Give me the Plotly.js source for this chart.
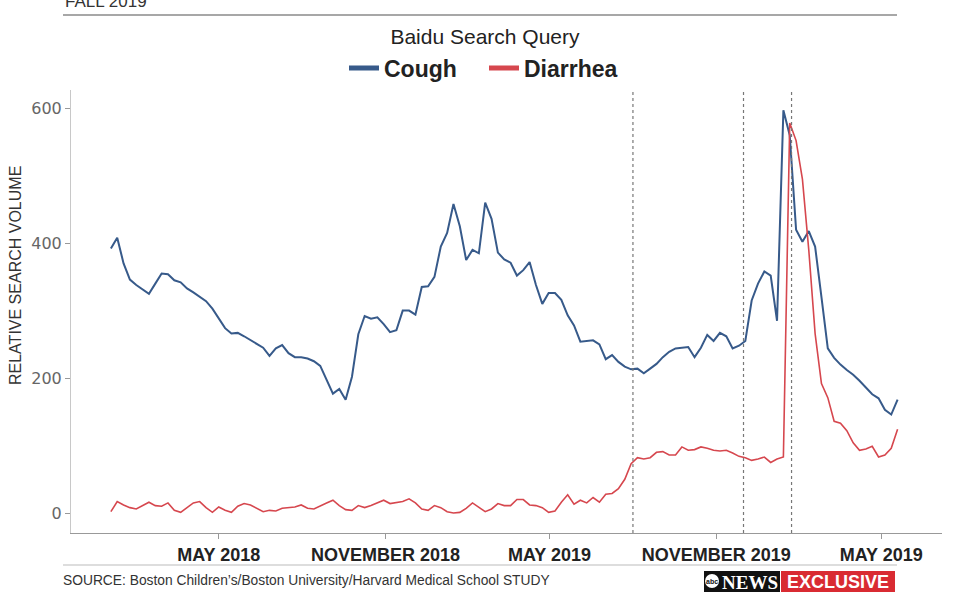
<!DOCTYPE html>
<html>
<head>
<meta charset="utf-8">
<script src="https://cdn.plot.ly/plotly-3.0.1.min.js"></script>
<style>
  html, body { margin: 0; padding: 0; background: #fff; }
  #chart { width: 960px; height: 600px; }
</style>
</head>
<body>
<div id="chart"></div>
<script>
// weekly Baidu search volume, first week starting 2018-01-02
const firstWeek = '2018-01-02';

const cough = [
  392, 408, 370, 346, 338, 331, 325, 340, 355, 354,
  345, 342, 333, 327, 320, 314, 303, 289, 274, 266,
  267, 262, 256, 251, 245, 233, 244, 249, 237, 231,
  231, 229, 225, 218, 197, 177, 184, 168, 202, 265,
  292, 288, 290, 280, 268, 271, 300, 300, 294, 335,
  336, 350, 395, 415, 458, 425, 375, 390, 385, 460,
  436, 386, 376, 371, 352, 360, 372, 338, 310, 326,
  326, 316, 293, 278, 254, 255, 256, 250, 228, 234,
  224, 217, 213, 214, 207, 214, 221, 231, 239, 244,
  245, 246, 231, 245, 264, 255, 267, 262, 244, 248,
  255, 315, 340, 358, 352, 285, 597, 560, 420, 402,
  418, 395, 320, 244, 230, 220, 212, 205, 196, 186,
  176, 170, 153, 146, 168
];

const diarrhea = [
  2, 17, 12, 8, 6, 11, 16, 11, 10, 15,
  4, 1, 8, 15, 17, 8, 1, 9, 4, 1,
  10, 14, 12, 7, 2, 4, 3, 7, 8, 9,
  12, 7, 6, 11, 15, 19, 11, 5, 4, 11,
  8, 11, 15, 19, 14, 15, 17, 21, 15, 6,
  4, 11, 8, 2, 0, 1, 7, 15, 9, 2,
  6, 14, 11, 11, 20, 20, 12, 11, 8, 1,
  3, 16, 27, 13, 19, 15, 23, 16, 28, 29,
  36, 50, 73, 82, 80, 82, 90, 91, 86, 86,
  98, 93, 94, 98, 96, 93, 92, 93, 89, 84,
  82, 78, 80, 83, 75, 80, 83, 578, 552, 495,
  390, 266, 192, 171, 136, 133, 122, 104, 93, 95,
  99, 83, 86, 96, 124
];

const tickDates = ['2018-05-01', '2018-11-01', '2019-05-01', '2019-11-01', '2020-05-01'];
const tickLabels = ['MAY 2018', 'NOVEMBER 2018', 'MAY 2019', 'NOVEMBER 2019', 'MAY 2019'];
const eventDates = ['2019-08-01', '2019-12-01', '2020-01-23'];

const coughColor = '#375a8a';
const diarrheaColor = '#d6474e';

const start = Date.parse(firstWeek + 'T00:00:00Z');
const weeks = cough.map((v, i) => new Date(start + i * 7 * 86400000).toISOString().slice(0, 10));

// plot area in pixels
const L = 71, R = 18, T = 90, B = 67;
const W = 960 - L - R, H = 600 - T - B;
const px = x => (x - L) / W;
const py = y => (600 - B - y) / H;

const data = [
  {
    x: weeks, y: cough, type: 'scatter', mode: 'lines', name: 'Cough',
    line: { color: coughColor, width: 2 }, showlegend: false
  },
  {
    x: weeks, y: diarrhea, type: 'scatter', mode: 'lines', name: 'Diarrhea',
    line: { color: diarrheaColor, width: 1.6 }, showlegend: false
  },
  // legend entries with thick swatches
  { x: [null], y: [null], type: 'scatter', mode: 'lines', name: 'Cough', line: { color: coughColor, width: 5 } },
  { x: [null], y: [null], type: 'scatter', mode: 'lines', name: 'Diarrhea', line: { color: diarrheaColor, width: 5 } }
];

const shapes = eventDates.map(d => ({
  type: 'line', xref: 'x', yref: 'paper', x0: d, x1: d, y0: 0, y1: 1,
  line: { color: '#777', width: 1.2, dash: '3px,3px' }
}));
shapes.push(
  { type: 'line', xref: 'paper', yref: 'paper', x0: px(63), x1: px(897), y0: py(15), y1: py(15), line: { color: '#8a8a8a', width: 1.5 } },
  { type: 'line', xref: 'paper', yref: 'paper', x0: px(63), x1: px(897), y0: py(565), y1: py(565), line: { color: '#bbb', width: 1 } },
  { type: 'rect', xref: 'paper', yref: 'paper', x0: px(704), x1: px(780), y0: py(592), y1: py(571), fillcolor: '#111', line: { width: 0 } },
  { type: 'rect', xref: 'paper', yref: 'paper', x0: px(781), x1: px(895), y0: py(592), y1: py(571), fillcolor: '#d92b32', line: { width: 0 } },
  { type: 'circle', xref: 'paper', yref: 'paper', x0: px(705), x1: px(719), y0: py(588), y1: py(574), fillcolor: '#fff', line: { width: 0 } }
);

const annotations = [
  { text: 'FALL 2019', xref: 'paper', yref: 'paper', x: px(63), y: py(1), xanchor: 'left', yanchor: 'middle',
    showarrow: false, font: { family: 'Liberation Sans, Arial, sans-serif', size: 17, color: '#333' } },
  { text: 'RELATIVE SEARCH VOLUME', xref: 'paper', yref: 'paper', x: px(15), y: py(276), textangle: -90,
    xanchor: 'center', yanchor: 'middle', showarrow: false,
    font: { family: 'Liberation Sans, Arial, sans-serif', size: 16, color: '#333' } },
  { text: 'SOURCE: Boston Children\u2019s/Boston University/Harvard Medical School STUDY', xref: 'paper', yref: 'paper',
    x: px(61), y: py(580), xanchor: 'left', yanchor: 'middle', showarrow: false,
    font: { family: 'Liberation Sans, Arial, sans-serif', size: 13.8, color: '#333' } },
  { text: '<b>abc</b>', xref: 'paper', yref: 'paper', x: px(712), y: py(581), xanchor: 'center', yanchor: 'middle',
    showarrow: false, font: { family: 'Liberation Sans, Arial, sans-serif', size: 7, color: '#111' } },
  { text: '<b>NEWS</b>', xref: 'paper', yref: 'paper', x: px(750), y: py(582), xanchor: 'center', yanchor: 'middle',
    showarrow: false, font: { family: 'Liberation Serif, Times New Roman, serif', size: 19, color: '#fff' } },
  { text: '<b>EXCLUSIVE</b>', xref: 'paper', yref: 'paper', x: px(838), y: py(582), xanchor: 'center', yanchor: 'middle',
    showarrow: false, font: { family: 'Liberation Sans, Arial, sans-serif', size: 18, color: '#fff' } }
];

const layout = {
  width: 960,
  height: 600,
  paper_bgcolor: '#fff',
  plot_bgcolor: '#fff',
  margin: { l: L, r: R, t: T, b: B, pad: 0 },
  title: {
    text: 'Baidu Search Query',
    xref: 'paper', x: px(485), xanchor: 'center',
    yref: 'container', y: 1 - 37 / 600, yanchor: 'middle',
    font: { family: 'Liberation Sans, Arial, sans-serif', size: 21, color: '#222' }
  },
  showlegend: true,
  legend: {
    orientation: 'h',
    x: px(344), xanchor: 'left',
    y: py(68), yanchor: 'middle',
    entrywidth: 95,
    font: { family: 'Liberation Sans, Arial, sans-serif', size: 23, color: '#222', weight: 'bold' },
    bgcolor: 'rgba(0,0,0,0)'
  },
  xaxis: {
    type: 'date',
    range: ['2017-11-19', '2020-07-07'],
    tickvals: tickDates,
    ticktext: tickLabels,
    showgrid: false,
    zeroline: false,
    showline: true,
    linecolor: '#999',
    linewidth: 1.2,
    ticks: 'outside',
    ticklen: 5,
    tickcolor: '#999',
    tickfont: { family: 'Liberation Sans, Arial, sans-serif', size: 18, color: '#222', weight: 'bold' }
  },
  yaxis: {
    range: [-29.6, 627],
    tickvals: [0, 200, 400, 600],
    showgrid: false,
    zeroline: false,
    showline: true,
    linecolor: '#c8c8c8',
    ticks: 'outside',
    ticklen: 5,
    tickcolor: '#999',
    tickfont: { family: 'DejaVu Sans, sans-serif', size: 16, color: '#666' }
  },
  shapes: shapes,
  annotations: annotations
};

Plotly.newPlot('chart', data, layout, { displayModeBar: false, staticPlot: true });
</script>
</body>
</html>
